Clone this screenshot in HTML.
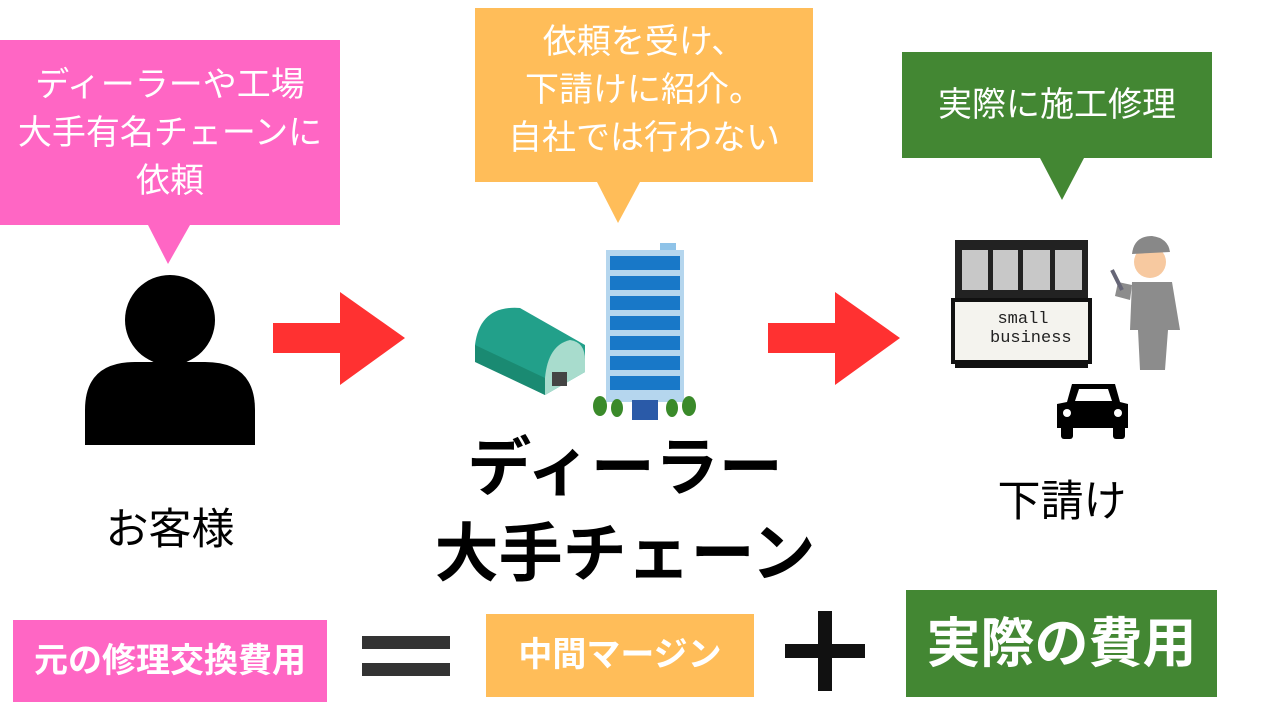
<!DOCTYPE html>
<html><head><meta charset="utf-8"><style>
body{margin:0;width:1280px;height:720px;background:#fff;position:relative;overflow:hidden;font-family:"Liberation Sans","Noto Sans CJK JP",sans-serif}
.a{position:absolute}
.t{position:absolute;text-align:center;white-space:nowrap}
</style></head><body>
<svg class="a" style="left:0;top:0" width="1280" height="720">
<rect x="0" y="40" width="340" height="185" fill="#ff66c4"/>
<polygon points="148,225 190,225 168,264" fill="#ff66c4"/>
<rect x="475" y="8" width="338" height="174" fill="#ffbd59"/>
<polygon points="597,182 640,182 618,223" fill="#ffbd59"/>
<rect x="902" y="52" width="310" height="106" fill="#438733"/>
<polygon points="1040,158 1084,158 1062,200" fill="#438733"/>
<circle cx="170" cy="320" r="45" fill="#000"/>
<path d="M85,445 L85,410 Q85,362 135,362 L205,362 Q255,362 255,410 L255,445 Z" fill="#000"/>
<polygon points="273,323 340,323 340,292 405,338 340,385 340,353 273,353" fill="#ff3131"/>
<polygon points="768,323 835,323 835,292 900,338 835,385 835,353 768,353" fill="#ff3131"/>
<path d="M475,345 Q480,305 520,308 L585,345 L585,372 L545,395 L475,360 Z" fill="#22a08a"/>
<path d="M475,345 L545,378 L545,395 L475,362 Z" fill="#1a8a72"/>
<path d="M545,378 Q548,345 570,340 Q585,342 585,360 L585,372 L545,395 Z" fill="#a8dccd"/>
<rect x="552" y="372" width="15" height="14" fill="#444"/>
<rect x="660" y="243" width="16" height="8" fill="#8fc3e8"/>
<rect x="606" y="250" width="78" height="152" fill="#b5d6ee"/>
<g fill="#1878c8">
<rect x="610" y="256" width="70" height="14"/><rect x="610" y="276" width="70" height="14"/>
<rect x="610" y="296" width="70" height="14"/><rect x="610" y="316" width="70" height="14"/>
<rect x="610" y="336" width="70" height="14"/><rect x="610" y="356" width="70" height="14"/>
<rect x="610" y="376" width="70" height="14"/></g>
<rect x="632" y="400" width="26" height="20" fill="#2a5aa8"/>
<g fill="#3a8a2a"><ellipse cx="600" cy="406" rx="7" ry="10"/><ellipse cx="617" cy="408" rx="6" ry="9"/><ellipse cx="672" cy="408" rx="6" ry="9"/><ellipse cx="689" cy="406" rx="7" ry="10"/></g>
<rect x="955" y="240" width="133" height="60" fill="#222"/>
<g fill="#c8c8c8"><path d="M962,250 L988,250 L988,290 L962,290Z"/><path d="M993,250 L1018,250 L1018,290 L993,290Z"/><path d="M1023,250 L1050,250 L1050,290 L1023,290Z"/><path d="M1055,250 L1082,250 L1082,290 L1055,290Z"/></g>
<rect x="953" y="300" width="137" height="62" fill="#f4f3ee" stroke="#111" stroke-width="4"/>
<rect x="955" y="360" width="133" height="8" fill="#111"/>
<circle cx="1150" cy="262" r="16" fill="#f7c9a0"/>
<path d="M1132,254 Q1134,236 1152,236 Q1168,238 1170,252 Z" fill="#888"/>
<path d="M1132,282 L1172,282 L1180,330 L1168,330 L1165,370 L1140,370 L1138,330 L1130,330 Z" fill="#8c8c8c"/>
<path d="M1132,285 L1118,282 L1115,296 L1130,300Z" fill="#8c8c8c"/>
<path d="M1112,270 L1122,290" stroke="#667" stroke-width="4"/>
<path d="M1067,402 L1072,384 L1115,384 L1120,402 L1128,404 L1128,428 L1057,428 L1057,404 Z" fill="#000"/>
<rect x="1061" y="425" width="12" height="14" rx="3"/><rect x="1113" y="425" width="12" height="14" rx="3"/>
<path d="M1075,401 L1079,389 L1108,389 L1112,401 Z" fill="#fff"/>
<circle cx="1067" cy="413" r="4" fill="#fff"/><circle cx="1118" cy="413" r="4" fill="#fff"/>
<rect x="13" y="620" width="314" height="82" fill="#ff66c4"/>
<rect x="362" y="636" width="88" height="13" fill="#333"/>
<rect x="362" y="663" width="88" height="13" fill="#333"/>
<rect x="486" y="614" width="268" height="83" fill="#ffbd59"/>
<rect x="785" y="644" width="80" height="14" fill="#111"/>
<rect x="818" y="611" width="14" height="80" fill="#111"/>
<rect x="906" y="590" width="311" height="107" fill="#438733"/>
</svg>
<div class="t" style="left:0;top:61px;width:340px;color:#fff;font-size:34px;line-height:48px">ディーラーや工場<br>大手有名チェーンに<br>依頼</div>
<div class="t" style="left:475px;top:18px;width:338px;color:#fff;font-size:34px;line-height:48px">依頼を受け、<br>下請けに紹介。<br>自社では行わない</div>
<div class="t" style="left:902px;top:83px;width:310px;color:#fff;font-size:34px;line-height:44px">実際に施工修理</div>
<div class="t" style="left:990px;top:310px;width:66px;font-family:'Liberation Mono',monospace;font-size:17px;line-height:19px;color:#222">small<br>business</div>
<div class="t" style="left:70px;top:503px;width:200px;font-size:43px;line-height:54px">お客様</div>
<div class="t" style="left:400px;top:425px;width:450px;font-size:64px;font-weight:bold;line-height:86px">ディーラー<br>大手チェーン</div>
<div class="t" style="left:962px;top:475px;width:200px;font-size:43px;line-height:54px">下請け</div>
<div class="t" style="left:13px;top:639px;width:314px;color:#fff;font-size:34px;font-weight:bold;line-height:44px">元の修理交換費用</div>
<div class="t" style="left:486px;top:633px;width:268px;color:#fff;font-size:34px;font-weight:bold;line-height:44px">中間マージン</div>
<div class="t" style="left:906px;top:612px;width:311px;color:#fff;font-size:54px;font-weight:bold;line-height:64px">実際の費用</div>
</body></html>
